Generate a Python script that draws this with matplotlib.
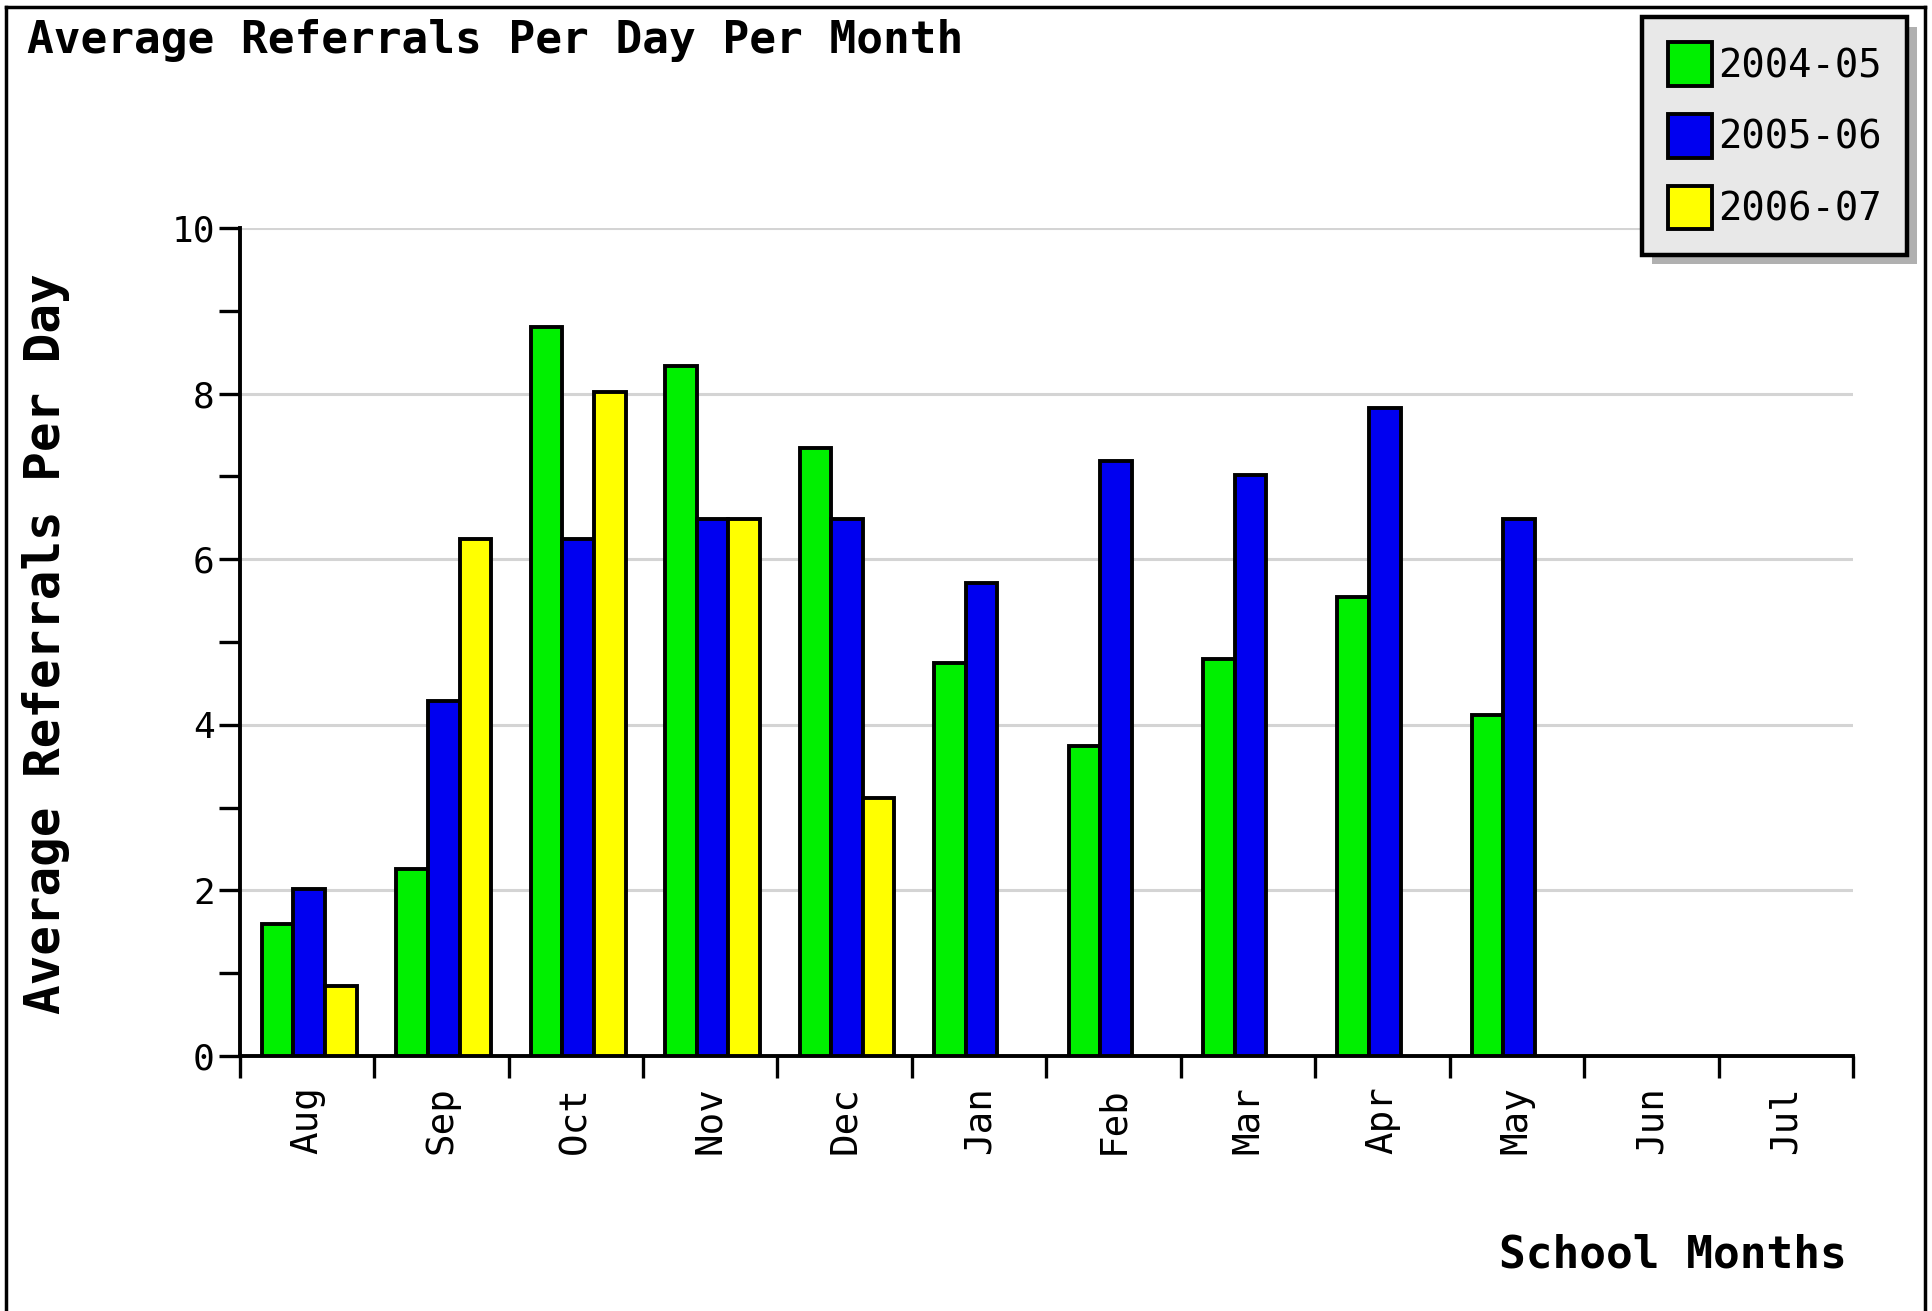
import matplotlib
matplotlib.use('Agg')
import matplotlib.pyplot as plt
from matplotlib.lines import Line2D
import numpy as np

months = ['Aug', 'Sep', 'Oct', 'Nov', 'Dec', 'Jan', 'Feb', 'Mar', 'Apr', 'May', 'Jun', 'Jul']
years = ['2004-05', '2005-06', '2006-07']
y2004 = [1.59, 2.26, 8.81, 8.33, 7.34, 4.75, 3.75, 4.79, 5.54, 4.12, None, None]
y2005 = [2.02, 4.29, 6.24, 6.49, 6.49, 5.71, 7.19, 7.02, 7.83, 6.49, None, None]
y2006 = [0.85, 6.24, 8.02, 6.49, 3.11, None, None, None, None, None, None, None]
colors = ['#00f000', '#0000f0', '#ffff00']

plt.rcParams['font.family'] = ['DejaVu Sans Mono']

fig = plt.figure(figsize=(19.33, 13.11), dpi=100)
ax = fig.add_axes([0.124, 0.1945, 0.8346, 0.6316])

bw = 0.235
for k, (vals, col, lab) in enumerate(zip([y2004, y2005, y2006], colors, years)):
    xs = [i + 0.165 + k * bw for i, v in enumerate(vals) if v is not None]
    hs = [v for v in vals if v is not None]
    ax.bar(xs, hs, width=bw, align='edge', color=col, edgecolor='black',
           linewidth=2.8, label=lab, zorder=3)

ax.set_xlim(0, 12)
ax.set_ylim(0, 10)

# y axis: labelled even ticks, short odd ticks
ax.set_yticks(np.arange(0, 11, 2))
ax.set_yticks(np.arange(1, 10, 2), minor=True)
ax.tick_params(axis='y', which='both', direction='out', length=15, width=2.4,
               labelsize=26, pad=3)
ax.grid(True, axis='y', which='major', color='#d4d4d4', linewidth=2.2, zorder=0)

# x axis: tick marks between months, labels centred on months
ax.set_xticks(np.arange(0, 13))
ax.set_xticklabels([])
ax.set_xticks(np.arange(12) + 0.5, minor=True)
ax.set_xticklabels(months, minor=True, rotation=90, fontsize=27)
ax.tick_params(axis='x', which='major', direction='out', length=16, width=2.4)
ax.tick_params(axis='x', which='minor', length=0, pad=22)

for s in ['top', 'right']:
    ax.spines[s].set_visible(False)
for s in ['left', 'bottom']:
    ax.spines[s].set_linewidth(2.8)

fig.text(0.014, 0.969, 'Average Referrals Per Day Per Month', fontsize=32,
         fontweight='bold', ha='left', va='center')
fig.text(0.024, 0.509, 'Average Referrals Per Day', fontsize=35.5,
         fontweight='bold', rotation=90, ha='center', va='center')
fig.text(0.9555, 0.043, 'School Months', fontsize=32, fontweight='bold',
         ha='right', va='center')

leg = fig.legend(loc='upper right', bbox_to_anchor=(0.9866, 0.987),
                 fontsize=28, frameon=True, fancybox=False, framealpha=1,
                 facecolor='#e8e8e8', edgecolor='black',
                 shadow={'ox': 7, 'oy': -7, 'facecolor': '#b0b0b0',
                         'edgecolor': 'none', 'alpha': 1},
                 handlelength=1.15, handleheight=1.35, handletextpad=0.15,
                 labelspacing=0.72, borderpad=0.65, borderaxespad=0)
leg.get_frame().set_linewidth(3.2)

# outer frame of the image
for xy in [([0.003, 0.003], [0, 0.995]), ([0.003, 0.996], [0.995, 0.995]),
           ([0.996, 0.996], [0, 0.995])]:
    fig.add_artist(Line2D(xy[0], xy[1], color='black', linewidth=2.5,
                          transform=fig.transFigure))

fig.savefig('out.png', dpi=100, facecolor='white')
